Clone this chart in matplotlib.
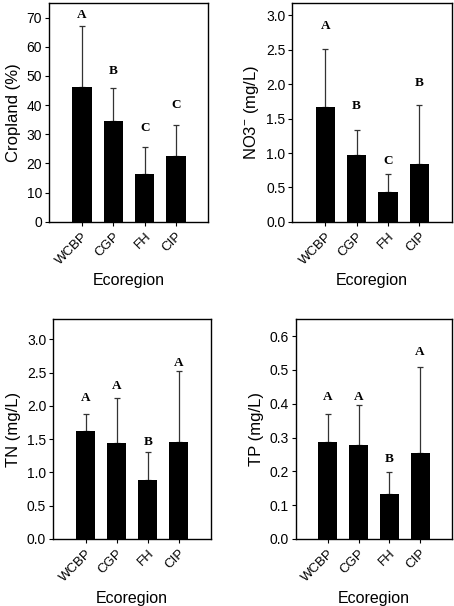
import numpy as np
import matplotlib
matplotlib.use("Agg")
import matplotlib.pyplot as plt
from matplotlib.ticker import FormatStrFormatter

plt.rcParams["font.family"] = ["Liberation Sans", "DejaVu Sans"]
plt.rcParams["mathtext.default"] = "regular"

ecoregions = ["WCBP", "CGP", "FH", "CIP"]

cropland_mean = [46.1, 34.7, 16.3, 22.7]
cropland_sd = [21.0, 11.0, 9.5, 10.6]
cropland_letters = ["A", "B", "C", "C"]
cropland_letter_y = [70.8, 51.6, 32.3, 40.1]

no3_mean = [1.67, 0.97, 0.44, 0.84]
no3_sd = [0.84, 0.37, 0.26, 0.86]
no3_letters = ["A", "B", "C", "B"]
no3_letter_y = [2.84, 1.69, 0.88, 2.02]

tn_mean = [1.62, 1.44, 0.89, 1.45]
tn_sd = [0.26, 0.68, 0.42, 1.08]
tn_letters = ["A", "A", "B", "A"]
tn_letter_y = [2.12, 2.30, 1.45, 2.64]

tp_mean = [0.287, 0.278, 0.133, 0.255]
tp_sd = [0.084, 0.117, 0.064, 0.255]
tp_letters = ["A", "A", "B", "A"]
tp_letter_y = [0.420, 0.419, 0.236, 0.554]

fig = plt.figure(figsize=(4.54, 6.06), dpi=100)


def panel(rect, mean, sd, letters, letter_y, ylabel, ymax, yticks, fmt):
    ax = fig.add_axes(rect)
    x = np.arange(len(ecoregions))
    ax.bar(x, mean, width=0.62, color="black", zorder=2)
    ax.errorbar(x, mean, yerr=[np.zeros(len(sd)), sd], fmt="none",
                ecolor="#333333", elinewidth=0.9, capsize=2.5, capthick=0.9, zorder=1)
    for xi, lab, ly in zip(x, letters, letter_y):
        ax.text(xi, ly, lab, ha="center", va="center", fontsize=9.5,
                fontweight="bold", family=["Liberation Serif"])
    ax.set_xlim(-1.05, 4.03)
    ax.set_ylim(0, ymax)
    ax.set_yticks(yticks)
    if fmt:
        ax.yaxis.set_major_formatter(FormatStrFormatter(fmt))
    ax.set_xticks(x)
    ax.set_xticklabels(ecoregions, rotation=45, ha="right", rotation_mode="anchor")
    ax.tick_params(direction="out", length=3, width=0.8, labelsize=10, pad=2)
    ax.tick_params(axis="x", labelsize=9.5, pad=3)
    for s in ax.spines.values():
        s.set_linewidth(1.0)
    ax.set_ylabel(ylabel, fontsize=12, labelpad=4)
    ax.set_xlabel("Ecoregion", fontsize=11.5, va="center")
    ax.xaxis.set_label_coords(0.5, -0.27)
    return ax


panel([0.108, 0.634, 0.351, 0.361], cropland_mean, cropland_sd, cropland_letters,
      cropland_letter_y, "Cropland (%)", 75, np.arange(0, 71, 10), None)
panel([0.644, 0.634, 0.351, 0.361], no3_mean, no3_sd, no3_letters,
      no3_letter_y, "NO3$^{-}$ (mg/L)", 3.18, np.arange(0, 3.01, 0.5), "%.1f")
panel([0.117, 0.1106, 0.347, 0.3625], tn_mean, tn_sd, tn_letters,
      tn_letter_y, "TN (mg/L)", 3.3, np.arange(0, 3.01, 0.5), "%.1f")
panel([0.651, 0.1106, 0.344, 0.3625], tp_mean, tp_sd, tp_letters,
      tp_letter_y, "TP (mg/L)", 0.65, np.arange(0, 0.61, 0.1), "%.1f")

fig.savefig("out.png", dpi=100)
